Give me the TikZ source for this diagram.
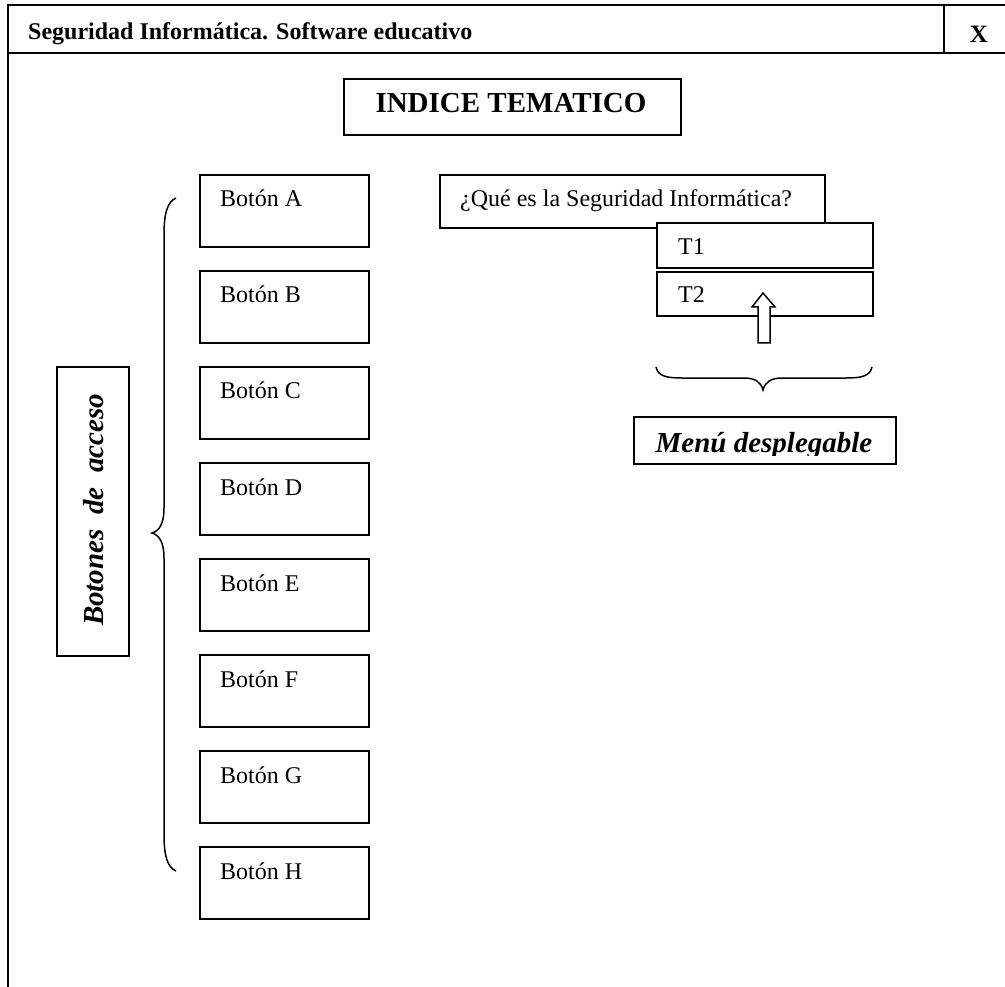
\documentclass[tikz,border=0pt]{standalone}
\usepackage{fontspec}
\setmainfont{Liberation Serif}
\begin{document}
\begin{tikzpicture}[x=1pt,y=-1pt,
  frame/.style={line width=2pt},
  box/.style={draw,line width=1.8pt,rectangle,inner sep=0pt,anchor=north west},
  lbl/.style={inner sep=0pt,anchor=base west,font=\fontsize{24}{28}\selectfont},
  bigbold/.style={inner sep=0pt,font=\fontsize{29}{34}\selectfont\bfseries},
  brace/.style={line width=1.5pt}]
\useasboundingbox (0,0) rectangle (1005,987);

% window frame and title bar
\draw[frame] (1005,5) -- (8,5) -- (8,987);
\draw[line width=2.6pt] (8,53) -- (1005,53);
\draw[frame] (944,5) -- (944,53);
\node[inner sep=0pt,anchor=base west,font=\fontsize{24}{28}\selectfont\bfseries] (title) at (28,40) {Seguridad Informática. Software educativo};
\node[inner sep=0pt,anchor=base,font=\fontsize{25}{28}\selectfont\bfseries] (close) at (979,43) {X};

% heading
\node[box,minimum width=337pt,minimum height=56pt] (idxbox) at (343,78) {};
\node[bigbold,anchor=base] (idx) at (511,113) {INDICE TEMATICO};

% access buttons
\foreach \n [count=\i from 0] in {A,B,C,D,E,F,G,H}{
  \node[box,minimum width=169pt,minimum height=72pt] (btn\n) at (199,174+96*\i) {};
  \node[lbl] (btnlbl\n) at (220,207+96*\i) {Botón \n};
}

% left brace grouping the buttons
\coordinate (bt) at (176,198);
\coordinate (bb) at (176,871);
\coordinate (bm) at (152,533);
\draw[brace] (bt) .. controls (167,202) and (164,214) .. (164,235) -- (164,508)
  .. controls (164,524) and (159,531) .. (bm)
  .. controls (159,535) and (164,542) .. (164,558) -- (164,834)
  .. controls (164,855) and (167,867) .. (bb);

% side label
\node[box,minimum width=72pt,minimum height=289pt] (sidebox) at (56,366) {};
\node[bigbold,font=\fontsize{29}{34}\selectfont\bfseries\itshape,rotate=90] (side) at (94,510) {Botones\ \ de\ \ acceso};

% topic with its drop-down entries
\node[box,minimum width=385pt,minimum height=53pt] (topic) at (439,174) {};
\node[lbl] (topiclbl) at (460,207) {¿Qué es la Seguridad Informática?};
\node[box,fill=white,minimum width=216pt,minimum height=45pt] (t1) at (656,222) {};
\node[lbl] (t1lbl) at (678,255) {T1};
\node[box,minimum width=216pt,minimum height=44pt] (t2) at (656,271) {};
\node[lbl] (t2lbl) at (678,303) {T2};

% hollow arrow pointing up into the list
\draw[line width=1.5pt,fill=white] (758,343) -- (758,307) -- (752,307) -- (763,293)
  -- (775,307) -- (770,307) -- (770,343) -- cycle;

% brace under the drop-down entries
\coordinate (ml) at (656,367);
\coordinate (mr) at (872,367);
\coordinate (mm) at (763,390);
\draw[brace] (ml) .. controls (658,376) and (666,378) .. (682,378) -- (744,378)
  .. controls (755,378) and (761,382) .. (mm)
  .. controls (765,382) and (771,378) .. (782,378) -- (846,378)
  .. controls (862,378) and (870,376) .. (mr);

% drop-down menu label, its descenders cut by the box
\begin{scope}
  \clip (633,416) rectangle (895,455);
  \node[bigbold,font=\fontsize{29}{34}\selectfont\bfseries\itshape,anchor=base] (menu) at (764,452) {Menú desplegable};
\end{scope}
\node[box,minimum width=262pt,minimum height=47pt] (menubox) at (633,416) {};
\end{tikzpicture}
\end{document}
